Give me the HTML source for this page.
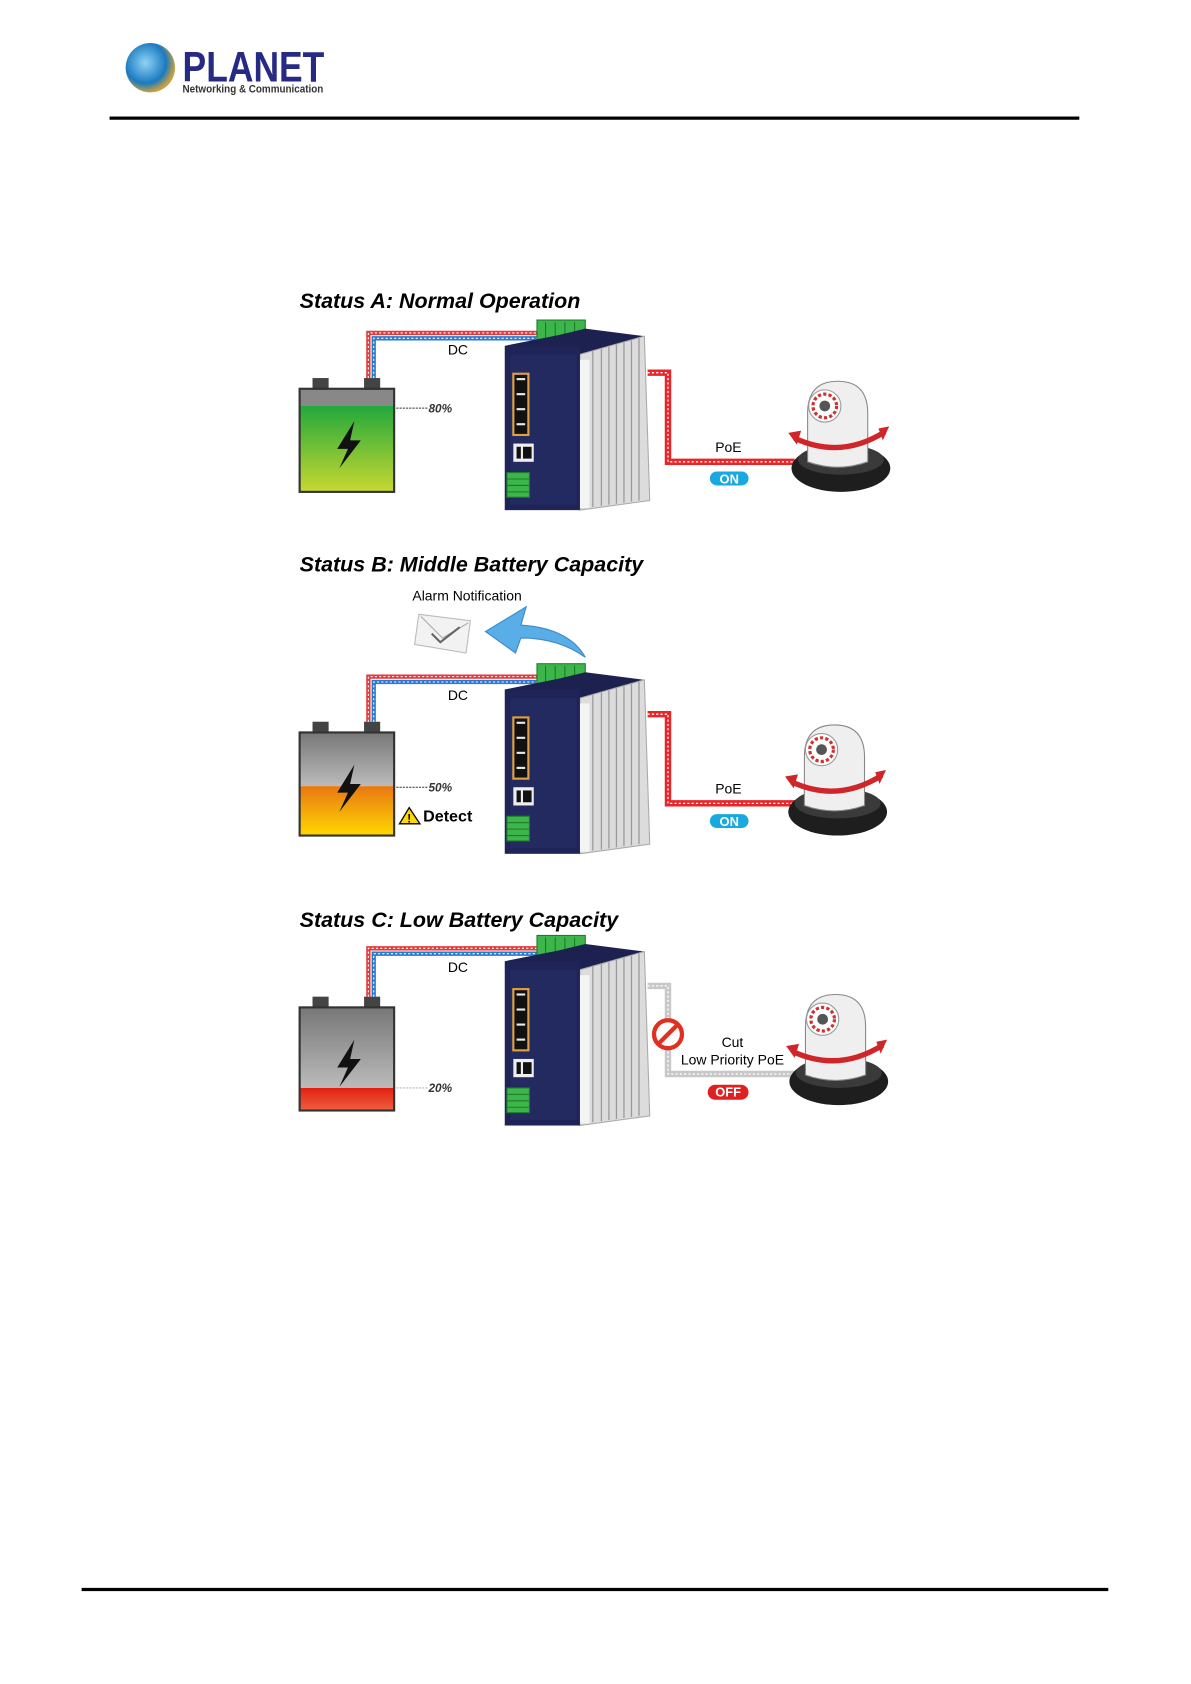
<!DOCTYPE html>
<html><head><meta charset="utf-8"><style>html,body{margin:0;padding:0;background:#fff}svg{display:block}</style></head>
<body>
<svg width="1191" height="1684" viewBox="0 0 1109 1568" preserveAspectRatio="none" xmlns="http://www.w3.org/2000/svg" font-family="Liberation Sans, sans-serif">
<defs>
<linearGradient id="gA" x1="0" y1="0" x2="0" y2="1"><stop offset="0" stop-color="#22a83c"/><stop offset="1" stop-color="#c8d830"/></linearGradient>
<linearGradient id="gB" x1="0" y1="0" x2="0" y2="1"><stop offset="0" stop-color="#e87812"/><stop offset="1" stop-color="#ffd800"/></linearGradient>
<linearGradient id="gG" x1="0" y1="0" x2="0" y2="1"><stop offset="0" stop-color="#777"/><stop offset="1" stop-color="#bbb"/></linearGradient>
<linearGradient id="gR" x1="0" y1="0" x2="0" y2="1"><stop offset="0" stop-color="#e02010"/><stop offset="1" stop-color="#f06040"/></linearGradient>
<radialGradient id="globe" cx="0.4" cy="0.4" r="0.6"><stop offset="0" stop-color="#8fd4f4"/><stop offset="0.7" stop-color="#1a7ac0"/><stop offset="1" stop-color="#c8a040"/></radialGradient>
<g id="sw">
  <rect x="500" y="298" width="45" height="20" fill="#3cb54a" stroke="#1e7a2a"/>
  <g stroke="#1e7a2a"><line x1="508" y1="300" x2="508" y2="317"/><line x1="517" y1="300" x2="517" y2="317"/><line x1="526" y1="300" x2="526" y2="317"/><line x1="535" y1="300" x2="535" y2="317"/></g>
  <polygon points="470,322 540,330 600,313 545,306 520,312 500,316" fill="#1d2150"/>
  <polygon points="540,330 600,313 605,466 540,475" fill="#dcdcdc" stroke="#aaa"/>
  <g stroke="#9a9a9a" stroke-width="1.2"><line x1="552" y1="327" x2="552" y2="472"/><line x1="560" y1="325" x2="560" y2="471"/><line x1="567" y1="323" x2="567" y2="470"/><line x1="574" y1="321" x2="574" y2="469"/><line x1="581" y1="319" x2="581" y2="468"/><line x1="588" y1="317" x2="588" y2="467"/><line x1="595" y1="315" x2="595" y2="466"/></g>
  <rect x="540" y="335" width="9" height="138" fill="#f4f4f4"/>
  <rect x="470" y="322" width="70" height="153" fill="#1f2456"/>
  <rect x="475" y="330" width="62" height="140" fill="#232a60"/>
  <rect x="478" y="348" width="14" height="57" fill="#111" stroke="#e0a040" stroke-width="2"/>
  <g fill="#e8e8e8"><rect x="481" y="352" width="8" height="2"/><rect x="481" y="366" width="8" height="2"/><rect x="481" y="380" width="8" height="2"/><rect x="481" y="394" width="8" height="2"/></g>
  <rect x="478" y="413" width="19" height="17" fill="#eee"/><rect x="481" y="416" width="4" height="11" fill="#111"/><rect x="487" y="416" width="8" height="11" fill="#111"/>
  <rect x="472" y="440" width="21" height="23" fill="#3cb54a" stroke="#1e7a2a"/>
  <g stroke="#1e7a2a"><line x1="472" y1="446" x2="493" y2="446"/><line x1="472" y1="452" x2="493" y2="452"/><line x1="472" y1="458" x2="493" y2="458"/></g>
</g>
<g id="cam">
  <ellipse cx="783" cy="436" rx="46" ry="22" fill="#1e1e1e"/>
  <ellipse cx="783" cy="428" rx="40" ry="14" fill="#3a3a3a"/>
  <path d="M752,430 V385 Q752,355 780,355 Q808,355 808,385 V430 Q780,440 752,430Z" fill="#efefef" stroke="#888"/>
  <circle cx="768" cy="378" r="15" fill="#fff" stroke="#999"/>
  <circle cx="768" cy="378" r="11" fill="none" stroke="#c33" stroke-width="3" stroke-dasharray="3 2"/>
  <circle cx="768" cy="378" r="5" fill="#555"/>
  <path d="M740,408 Q783,428 824,402" fill="none" stroke="#d0262a" stroke-width="5"/>
  <polygon points="734,403 746,401 742,414" fill="#d0262a"/><polygon points="828,397 818,399 822,410" fill="#d0262a"/>
</g>
<g id="bat">
  <rect x="291" y="352" width="15" height="11" fill="#444"/><rect x="339" y="352" width="15" height="11" fill="#444"/>
  <rect x="279" y="362" width="88" height="96" fill="none" stroke="#333" stroke-width="2"/>
</g>
<path id="bolt" d="M330,392 L314,418 L324,418 L316,436 L336,410 L326,410 Z" fill="#111"/>
</defs>

<!-- header -->
<circle cx="140" cy="63" r="23" fill="url(#globe)"/>
<text x="170" y="76" font-size="40" font-weight="bold" fill="#262a85" textLength="132" lengthAdjust="spacingAndGlyphs">PLANET</text>
<text x="170" y="86" font-size="10" font-weight="bold" fill="#333" textLength="131" lengthAdjust="spacingAndGlyphs">Networking &amp; Communication</text>
<rect x="102" y="108.5" width="903" height="3" fill="#000"/>
<rect x="76" y="1478.5" width="956" height="3" fill="#000"/>

<!-- Status A -->
<text x="279" y="287" font-size="20" font-weight="bold" font-style="italic">Status A: Normal Operation</text>
<rect x="279" y="362" width="88" height="16" fill="#888"/><rect x="279" y="378" width="88" height="80" fill="url(#gA)"/>
<use href="#bat"/><use href="#bolt"/>
<path d="M343,352 V310 H505" fill="none" stroke="#e23a3a" stroke-width="4"/>
<path d="M348,352 V315 H505" fill="none" stroke="#2a7ad0" stroke-width="4"/>
<path d="M343,352 V310 H505 M348,352 V315 H505" fill="none" stroke="#fff" stroke-width="1" stroke-dasharray="2 2"/>
<path d="M603,347 H622 V430 H740" fill="none" stroke="#e8262a" stroke-width="6"/>
<path d="M603,347 H622 V430 H740" fill="none" stroke="#fff" stroke-width="1.2" stroke-dasharray="2 2"/>
<use href="#sw"/><use href="#cam"/>
<text x="417" y="330" font-size="13">DC</text>
<line x1="369" y1="380" x2="398" y2="380" stroke="#333" stroke-dasharray="2 1"/>
<text x="399" y="384" font-size="11" font-weight="bold" font-style="italic" fill="#333">80%</text>
<text x="666" y="421" font-size="13">PoE</text>
<rect x="661" y="439" width="36" height="13" rx="6.5" fill="#19a8e0"/><text x="679" y="450" font-size="12" font-weight="bold" fill="#fff" text-anchor="middle">ON</text>

<!-- Status B -->
<text x="279" y="532" font-size="20" font-weight="bold" font-style="italic">Status B: Middle Battery Capacity</text>
<text x="384" y="559" font-size="13">Alarm Notification</text>
<polygon points="390,572 438,578 434,608 386,600" fill="#f2f2f2" stroke="#bbb"/>
<path d="M392,574 L412,594 L436,580" fill="none" stroke="#aaa"/><path d="M402,590 L410,598 L428,584" fill="none" stroke="#666" stroke-width="2"/>
<path d="M545,612 Q530,585 485,582 L490,565 L452,588 L480,608 L485,594 Q520,594 545,612Z" fill="#5aaee8" stroke="#3a8ac8"/>
<g transform="translate(0,320)">
<rect x="279" y="362" width="88" height="50" fill="url(#gG)"/><rect x="279" y="412" width="88" height="46" fill="url(#gB)"/>
<use href="#bat"/><use href="#bolt"/>
<path d="M343,352 V310 H505" fill="none" stroke="#e23a3a" stroke-width="4"/>
<path d="M348,352 V315 H505" fill="none" stroke="#2a7ad0" stroke-width="4"/>
<path d="M343,352 V310 H505 M348,352 V315 H505" fill="none" stroke="#fff" stroke-width="1" stroke-dasharray="2 2"/>
<path d="M603,345 H622 V428 H740" fill="none" stroke="#e8262a" stroke-width="6"/>
<path d="M603,345 H622 V428 H740" fill="none" stroke="#fff" stroke-width="1.2" stroke-dasharray="2 2"/>
<use href="#sw"/><use href="#cam" transform="translate(-3,0)"/>
<text x="417" y="332" font-size="13">DC</text>
<line x1="369" y1="413" x2="398" y2="413" stroke="#333" stroke-dasharray="2 1"/>
<text x="399" y="417" font-size="11" font-weight="bold" font-style="italic" fill="#333">50%</text>
<polygon points="381,432 391,447 372,447" fill="#ffd800" stroke="#111" stroke-width="1.3"/><text x="381" y="446" font-size="11" font-weight="bold" text-anchor="middle">!</text>
<text x="394" y="445" font-size="15" font-weight="bold">Detect</text>
<text x="666" y="419" font-size="13">PoE</text>
<rect x="661" y="438" width="36" height="13" rx="6.5" fill="#19a8e0"/><text x="679" y="449" font-size="12" font-weight="bold" fill="#fff" text-anchor="middle">ON</text>
</g>

<!-- Status C -->
<text x="279" y="863" font-size="20" font-weight="bold" font-style="italic">Status C: Low Battery Capacity</text>
<g transform="translate(0,576)">
<rect x="279" y="362" width="88" height="75" fill="url(#gG)"/><rect x="279" y="437" width="88" height="21" fill="url(#gR)"/>
<use href="#bat"/><use href="#bolt"/>
</g>
<g transform="translate(0,573)">
<path d="M343,355 V310 H505" fill="none" stroke="#e23a3a" stroke-width="4"/>
<path d="M348,355 V315 H505" fill="none" stroke="#2a7ad0" stroke-width="4"/>
<path d="M343,355 V310 H505 M348,355 V315 H505" fill="none" stroke="#fff" stroke-width="1" stroke-dasharray="2 2"/>
<path d="M603,345 H622 V427 H740" fill="none" stroke="#c8c8c8" stroke-width="6"/>
<path d="M603,345 H622 V427 H740" fill="none" stroke="#fff" stroke-width="1.2" stroke-dasharray="2 2"/>
<use href="#sw"/>
<use href="#cam" transform="translate(-2,-2)"/>
</g>
<text x="417" y="905" font-size="13">DC</text>
<line x1="369" y1="1013" x2="398" y2="1013" stroke="#bbb" stroke-dasharray="2 1"/>
<text x="399" y="1017" font-size="11" font-weight="bold" font-style="italic" fill="#333">20%</text>
<circle cx="622" cy="963" r="13" fill="#fff" stroke="#e03020" stroke-width="4"/><line x1="613" y1="972" x2="631" y2="954" stroke="#e03020" stroke-width="4"/>
<text x="682" y="975" font-size="13" text-anchor="middle">Cut</text>
<text x="634" y="991" font-size="13">Low Priority PoE</text>
<rect x="659" y="1010" width="38" height="14" rx="7" fill="#e02020"/><text x="678" y="1021" font-size="12" font-weight="bold" fill="#fff" text-anchor="middle">OFF</text>
</svg>
</body></html>
